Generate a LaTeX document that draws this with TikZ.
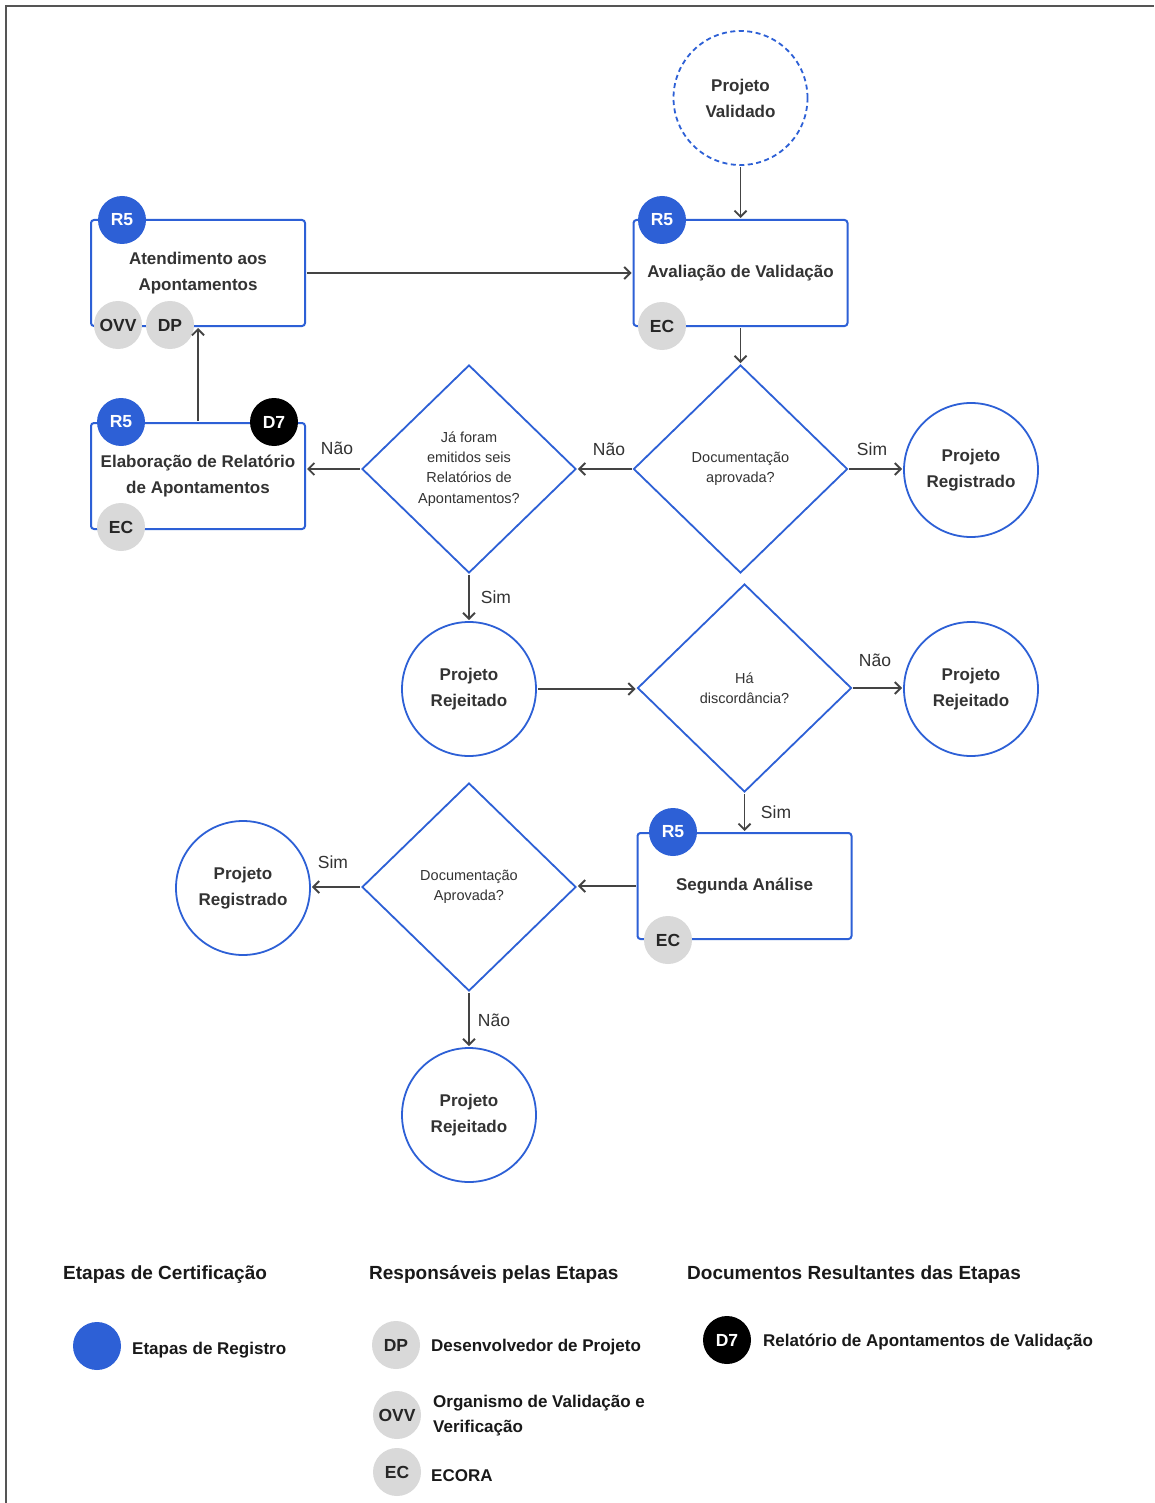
\documentclass[tikz,border=0pt]{standalone}
\usepackage{fontspec}
\setmainfont{Liberation Sans}
\usetikzlibrary{shapes.geometric,arrows.meta}
\definecolor{bl}{HTML}{2D60D6}
\definecolor{gr}{HTML}{D9D9D9}
\definecolor{tx}{HTML}{333333}
\definecolor{ln}{HTML}{444444}
\definecolor{fr}{HTML}{555555}
\tikzset{
  stepbox/.style={draw=bl, line width=2pt, rounded corners=3pt, minimum width=214pt, minimum height=106pt, inner sep=0pt, align=center, text=tx, font=\bfseries\fontsize{17}{26}\selectfont},
  dia/.style={diamond, draw=bl, line width=1.8pt, minimum width=214pt, minimum height=208pt, inner sep=0pt, align=center, text=tx, font=\fontsize{14.5}{20.3}\selectfont},
  circ/.style={circle, draw=bl, line width=1.8pt, minimum size=134pt, inner sep=0pt, align=center, text=tx, font=\bfseries\fontsize{17}{26}\selectfont},
  bdg/.style={circle, minimum size=48pt, inner sep=0pt, font=\bfseries\fontsize{17.5}{18}\selectfont},
  rb/.style={bdg, fill=bl, text=white},
  gb/.style={bdg, fill=gr, text=black!85},
  db/.style={bdg, fill=black, text=white},
  arr/.style={draw=ln, line width=1.9pt, -{Straight Barb[length=6pt,width=12pt]}, shorten >=1pt, shorten <=1pt},
  lbl/.style={text=tx, font=\fontsize{17.5}{20}\selectfont},
  head/.style={anchor=base west, inner sep=0pt, text=black!90, font=\bfseries\fontsize{19}{22}\selectfont},
  item/.style={anchor=base west, inner sep=0pt, text=black!90, font=\bfseries\fontsize{17}{25}\selectfont}
}
\begin{document}
\begin{tikzpicture}[x=1pt,y=-1pt]
\useasboundingbox (0,0) rectangle (1154,1503);
\fill[white] (0,0) rectangle (1154,1503);
\draw[fr, line width=2pt] (6,1503) -- (6,6) -- (1154,6);

% start
\node[circ, dashed, dash pattern=on 5pt off 3.5pt] (pv) at (740.5,98) {Projeto\\Validado};

% boxes
\node[stepbox] (b1) at (198,273) {Atendimento aos\\Apontamentos};
\node[stepbox] (b2) at (740.5,273) {Avaliação de Validação};
\node[stepbox] (b3) at (198,476) {Elaboração de Relatório\\de Apontamentos};
\node[stepbox] (b4) at (744.5,886) {Segunda Análise};

% diamonds
\node[dia] (d1) at (740.5,469) {Documentação\\aprovada?};
\node[dia] (d2) at (469,469) {Já foram\\emitidos seis\\Relatórios de\\Apontamentos?};
\node[dia] (d3) at (744.5,688) {Há\\discordância?};
\node[dia] (d4) at (469,887) {Documentação\\Aprovada?};

% end circles
\node[circ] (pr1) at (971,470) {Projeto\\Registrado};
\node[circ] (rj1) at (469,689) {Projeto\\Rejeitado};
\node[circ] (rj2) at (971,689) {Projeto\\Rejeitado};
\node[circ] (pr2) at (243,888) {Projeto\\Registrado};
\node[circ] (rj3) at (469,1115) {Projeto\\Rejeitado};

% badges
\node[rb] (r1) at (122,220) {R5};
\node[gb] (o1) at (118,325) {OVV};
\node[gb] (p1) at (170,325) {DP};
\node[rb] (r2) at (662,220) {R5};
\node[gb] (e2) at (662,326) {EC};
\node[rb] (r3) at (121,422) {R5};
\node[db] (x3) at (274,422) {D7};
\node[gb] (e3) at (121,527) {EC};
\node[rb] (r4) at (673,832) {R5};
\node[gb] (e4) at (668,940) {EC};

% connectors
\draw[arr] (pv.south) -- (b2.north);
\draw[arr] (b1.east) -- (b1.east -| b2.west);
\draw[arr] (b2.south) -- (d1.north);
\draw[arr] (d1.west) -- (d2.east);
\draw[arr] (d1.east) -- (d1.east -| pr1.west);
\draw[arr] (d2.west) -- (d2.west -| b3.east);
\draw[arr] (b3.north) -- (b1.south);
\draw[arr] (d2.south) -- (rj1.north);
\draw[arr] (rj1.east) -- (rj1.east -| d3.west);
\draw[arr] (d3.east) -- (d3.east -| rj2.west);
\draw[arr] (d3.south) -- (b4.north);
\draw[arr] (b4.west) -- (b4.west -| d4.east);
\draw[arr] (d4.west) -- (d4.west -| pr2.east);
\draw[arr] (d4.south) -- (rj3.north);

% connector labels
\node[lbl] (l1) at (609,449) {Não};
\node[lbl] (l2) at (872,449) {Sim};
\node[lbl] (l3) at (337,448) {Não};
\node[lbl] (l4) at (496,597) {Sim};
\node[lbl] (l5) at (875,660) {Não};
\node[lbl] (l6) at (776,812) {Sim};
\node[lbl] (l7) at (333,862) {Sim};
\node[lbl] (l8) at (494,1020) {Não};

% legend
\node[head] (h1) at (63,1279) {Etapas de Certificação};
\node[head] (h2) at (369,1279) {Responsáveis pelas Etapas};
\node[head] (h3) at (687,1279) {Documentos Resultantes das Etapas};

\node[bdg, fill=bl] (kb) at (97,1346) {};
\node[item] (kt) at (132,1354) {Etapas de Registro};

\node[gb] (kdp) at (396,1345) {DP};
\node[item] (kdpt) at (431,1351) {Desenvolvedor de Projeto};
\node[gb] (kovv) at (397,1415) {OVV};
\node[item, anchor=west, align=left] (kovvt) at (433,1416) {Organismo de Validação e\\Verificação};
\node[gb] (kec) at (397,1472) {EC};
\node[item] (kect) at (431,1481) {ECORA};

\node[db] (kd7) at (727,1340) {D7};
\node[item] (kd7t) at (763,1346) {Relatório de Apontamentos de Validação};
\end{tikzpicture}
\end{document}
